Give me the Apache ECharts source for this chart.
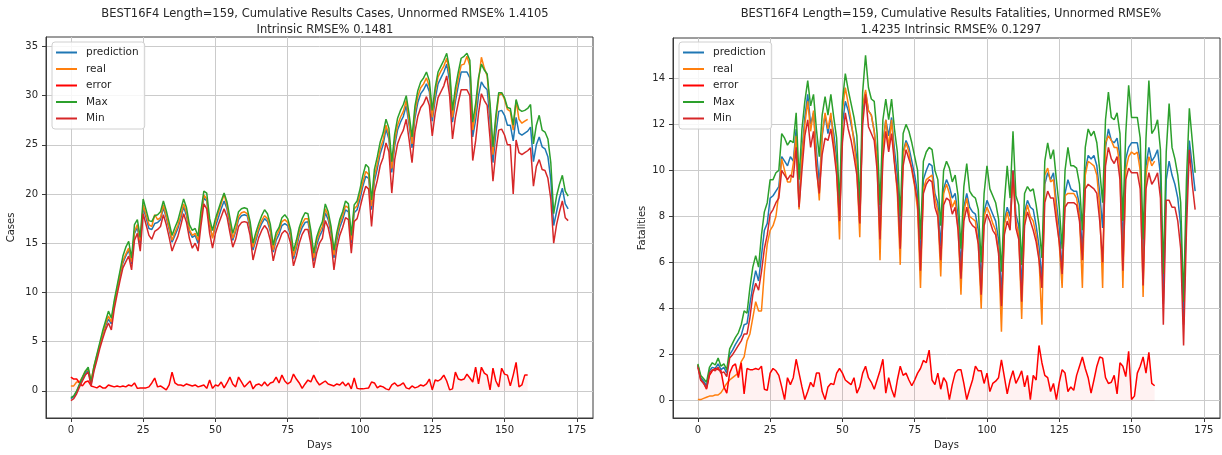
<!DOCTYPE html>
<html><head><meta charset="utf-8">
<script src="https://cdn.jsdelivr.net/npm/echarts@6/dist/echarts.min.js"></script>
<style>html,body{margin:0;padding:0;background:#fff}#c{width:1222px;height:455px}</style>
</head><body><div id="c"></div>
<script>
const seriesNames = ['prediction','real','error','Max','Min'];
const xTicks = [0,25,50,75,100,125,150,175];
const casesTicks = [0,5,10,15,20,25,30,35];
const fatalTicks = [0,2,4,6,8,10,12,14];
const titleCases = 'BEST16F4 Length=159, Cumulative Results Cases, Unnormed RMSE% 1.4105\nIntrinsic RMSE% 0.1481';
const titleFatal = 'BEST16F4 Length=159, Cumulative Results Fatalities, Unnormed RMSE%\n1.4235 Intrinsic RMSE% 0.1297';

// ---------- Cases ----------
const casesPred = [
-0.8,-0.6,-0.1,0.6,1.2,1.8,2.1, 0.7,2.2,3.4,4.6,5.7,6.6,7.3, 6.8,8.7,10.2,11.7,13.0,13.7,14.3,
12.9,16.0,16.6,14.9,18.6,17.6,16.5, 16.4,17.0,17.1,17.4,18.6,17.6,16.4, 15.1,15.8,16.5,17.5,18.7,17.8,16.2,
15.6,15.8,15.0,17.5,19.6,19.3,16.8, 15.6,16.7,17.6,18.5,19.3,18.5,16.9, 15.3,16.2,17.4,17.8,17.9,17.8,16.5,
14.3,15.3,16.3,17.0,17.5,17.2,16.2, 14.1,15.3,15.9,16.8,17.0,16.8,15.7, 13.4,14.5,15.8,16.6,17.1,17.2,15.6,
13.2,14.8,15.7,16.3,18.1,17.4,16.0, 13.5,15.3,16.6,17.4,18.4,18.2,15.0, 18.1,18.4,19.5,20.8,21.8,21.6,18.4,
21.3,22.6,24.1,25.0,26.6,25.6,22.2, 24.9,26.5,27.3,27.9,29.0,27.0,24.7, 27.7,29.3,30.2,30.6,31.2,30.4,27.4,
29.6,31.2,31.8,32.4,33.2,31.5,27.3, 29.4,31.0,32.4,32.4,32.4,31.8,25.8, 27.5,30.0,31.4,30.9,30.6,27.5,23.2,
26.2,28.4,28.5,28.0,27.0,27.0,25.4, 27.8,26.2,26.0,26.2,26.4,26.8,23.3, 25.0,25.8,24.8,24.6,23.8,21.5,16.8,
18.2,19.6,20.6,19.0,18.5];
const casesMax = [
-0.7,-0.5,0.0,0.7,1.4,2.0,2.4, 0.9,2.5,3.7,4.9,6.1,7.1,8.1, 7.4,9.2,10.7,12.2,13.7,14.6,15.2,
13.5,16.9,17.4,15.6,19.5,18.4,17.3, 17.2,17.8,17.9,18.2,19.3,18.3,17.1, 15.8,16.6,17.3,18.4,19.5,18.6,16.9,
16.3,16.5,15.7,18.3,20.3,20.1,17.5, 16.3,17.5,18.4,19.3,20.1,19.2,17.6, 16.0,17.0,18.2,18.5,18.6,18.5,17.2,
15.0,16.1,17.0,17.8,18.4,18.0,16.9, 14.8,16.1,16.6,17.6,17.9,17.5,16.4, 14.2,15.3,16.6,17.5,18.1,18.0,16.3,
14.0,15.6,16.5,17.2,19.0,18.2,16.7, 14.3,16.1,17.4,18.2,19.3,19.0,15.8, 18.9,19.3,20.5,21.9,23.0,22.7,19.4,
22.5,23.8,25.3,26.2,27.6,26.7,23.3, 26.1,27.7,28.5,29.1,30.0,28.1,25.8, 28.9,30.5,31.4,31.8,32.4,31.5,28.5,
30.8,32.4,33.0,33.6,34.3,32.7,28.5, 30.8,32.4,33.8,34.0,34.3,33.6,27.3, 29.2,31.8,33.2,32.6,32.2,29.2,24.8,
28.0,30.3,30.3,29.8,28.8,28.7,27.0, 29.6,28.6,28.4,28.5,28.7,29.1,25.1, 27.0,28.0,26.5,26.3,25.6,23.2,18.0,
19.8,21.0,21.9,20.3,19.8];
const casesMin = [
-1.0,-0.8,-0.3,0.4,1.0,1.6,1.9, 0.5,2.0,3.1,4.3,5.3,6.2,6.9, 6.2,8.3,9.8,11.2,12.5,13.1,13.7,
12.3,15.3,16.0,14.2,18.0,16.9,15.8, 15.4,16.2,16.4,16.7,17.9,16.9,15.6, 14.2,15.0,15.7,16.8,18.0,17.1,15.5,
14.5,15.0,14.2,16.8,19.0,18.5,16.0, 14.5,16.0,16.9,17.7,18.5,17.7,16.1, 14.6,15.4,16.7,17.1,17.2,17.1,15.8,
13.3,14.5,15.6,16.3,16.8,16.4,15.3, 13.2,14.5,15.2,16.0,16.3,16.0,15.0, 12.7,13.7,15.0,15.9,16.4,16.4,14.9,
12.5,14.0,15.0,15.5,17.3,16.6,15.2, 12.3,14.5,15.8,16.6,17.6,17.4,14.0, 17.2,17.5,18.6,19.8,20.8,20.5,16.7,
20.2,21.4,22.9,23.7,25.2,24.3,20.1, 23.5,25.1,25.9,26.5,27.6,25.5,23.2, 26.3,27.9,28.8,29.2,29.9,29.0,25.9,
28.2,29.8,30.4,31.0,32.0,30.0,25.6, 27.8,29.3,30.6,30.6,30.6,30.0,23.4, 25.4,28.2,30.2,29.5,29.0,25.6,21.3,
24.3,26.5,26.6,26.0,25.0,25.0,20.0, 25.5,24.2,24.0,24.2,24.4,24.7,20.8, 22.8,23.5,22.5,22.4,21.6,19.5,15.0,
16.9,18.2,19.3,17.6,17.3];
const casesReal = [
0.5,0.5,0.9,0.9,1.4,2.0,2.2, 1.0,2.5,3.6,4.7,5.8,6.8,7.6, 7.0,8.9,10.4,11.9,13.2,13.9,14.5,
13.1,16.2,16.9,15.2,18.9,17.9,16.9, 16.7,17.9,17.4,17.6,18.9,17.8,16.6, 15.3,16.1,16.8,17.8,19.0,18.1,16.4,
15.8,16.0,15.3,17.8,19.9,19.5,17.0, 15.5,17.1,18.1,19.0,20.0,18.8,17.2, 15.5,16.4,17.7,18.1,18.2,18.0,16.8,
14.6,15.6,16.6,17.3,17.8,17.5,16.4, 14.3,15.7,16.3,17.2,17.4,17.1,16.0, 13.7,14.8,16.2,17.0,17.5,17.5,15.9,
13.5,15.2,16.1,16.7,18.5,17.8,16.3, 13.8,15.7,17.0,17.8,18.8,18.6,15.3, 18.5,18.8,20.0,21.2,22.3,22.0,18.8,
21.8,23.1,24.6,25.5,27.0,26.0,22.6, 25.4,27.0,27.8,28.4,29.5,27.4,25.1, 28.3,29.9,30.8,31.2,31.8,30.9,27.8,
30.3,31.9,32.5,33.0,33.8,32.1,27.8, 30.0,31.7,33.1,33.2,34.0,33.0,26.5, 28.4,31.5,33.9,32.8,32.0,28.6,24.0,
27.5,30.0,30.3,29.6,28.6,28.4,26.5, 29.5,27.6,27.2,27.4,27.6];
const casesError = [
1.4,1.2,1.2,0.8,0.5,0.9,1.0, 0.5,0.4,0.3,0.5,0.3,0.3,0.6, 0.5,0.4,0.5,0.4,0.5,0.4,0.6,
0.5,0.8,0.25,0.3,0.3,0.3,0.4, 0.8,1.3,0.4,0.5,0.3,0.1,0.6, 1.9,0.8,0.6,0.6,0.5,0.7,0.6,
0.5,0.6,0.4,0.5,0.6,0.25,1.1, 0.25,0.6,0.5,0.9,0.3,0.8,1.4, 0.7,0.4,1.4,0.9,0.4,0.7,1.0,
0.2,0.6,0.7,0.5,0.9,0.5,0.8, 0.9,1.4,0.8,1.6,1.0,0.7,0.9, 1.7,1.2,0.8,0.25,0.7,1.1,0.9,
1.6,1.0,0.6,0.8,1.0,0.7,0.6, 0.5,0.7,0.6,0.9,0.5,0.8,0.2, 1.3,0.25,0.2,0.2,0.25,0.3,0.9,
0.8,0.3,0.5,0.4,0.2,0.1,0.6, 0.8,0.5,0.6,0.8,0.3,0.2,0.5, 0.3,0.4,0.6,0.5,0.7,1.2,0.1,
1.1,1.0,1.2,1.6,1.0,0.1,0.2, 1.9,1.2,1.1,1.2,1.7,1.3,0.9, 2.4,0.7,2.4,1.8,1.6,0.1,2.3,
1.0,0.4,2.3,1.7,1.6,0.5,1.6, 2.9,0.4,0.6,1.6,1.6];

// ---------- Fatalities ----------
const fatalPred = [
1.5,1.0,0.85,0.65,1.3,1.45,1.4, 1.6,1.35,1.45,1.2,2.0,2.2,2.45, 2.65,2.85,3.3,3.35,4.2,5.0,5.65,
5.2,6.3,7.4,7.7,8.8,8.9,9.1, 9.3,10.6,10.4,10.2,10.6,10.4,11.8, 8.6,10.8,12.3,13.3,12.0,12.5,10.9,
9.4,11.5,12.4,11.6,12.3,11.6,10.5, 7.8,12.0,13.0,12.6,12.0,11.4,10.5, 7.7,12.5,13.4,12.6,12.4,11.7,10.6,
7.5,11.2,12.2,11.5,12.3,10.9,9.8, 7.0,10.8,11.3,11.0,10.4,9.8,9.0, 6.1,9.6,10.0,10.3,10.2,9.0,8.6,
6.7,9.2,9.6,9.3,8.8,9.0,8.0, 5.8,8.4,9.0,8.4,8.2,8.1,7.4, 5.1,8.2,8.7,8.4,8.1,7.8,7.0,
4.6,7.8,8.4,8.0,10.0,8.1,7.6, 4.9,8.2,8.7,8.4,8.3,7.6,6.7, 5.2,9.4,9.9,9.6,9.9,8.6,7.5,
5.65,9.0,9.6,9.2,9.1,9.1,8.5, 6.4,10.0,10.65,10.5,10.65,10.2,9.0, 7.5,11.0,11.8,11.3,11.2,11.4,10.6,
6.7,10.5,11.0,11.2,11.2,11.2,10.4, 5.8,10.2,11.0,10.4,10.6,10.9,9.8, 4.2,9.6,10.4,9.8,9.4,8.8,7.6,
3.3,8.5,11.3,10.2,9.1];
const fatalMax = [
1.6,1.1,0.95,0.8,1.45,1.65,1.55, 1.85,1.5,1.6,1.35,2.25,2.5,2.75, 2.95,3.3,3.9,3.8,4.9,5.8,6.3,
5.8,7.2,8.2,8.6,9.6,9.6,9.9, 10.0,11.6,11.4,11.1,11.3,11.2,12.5, 9.6,11.8,13.0,13.9,12.8,13.3,11.8,
10.6,12.4,13.2,12.4,13.3,12.3,11.4, 8.5,13.0,14.2,13.5,12.9,12.3,11.5, 8.5,13.4,15.0,13.6,13.1,13.0,11.6,
8.5,12.2,13.1,12.2,13.1,11.8,10.8, 8.0,11.6,12.0,11.7,11.2,10.6,10.0, 7.0,10.4,10.8,11.0,10.9,10.0,9.6,
7.6,10.0,10.4,10.1,9.5,9.8,8.9, 6.6,9.3,10.3,9.1,8.9,8.8,8.3, 6.0,9.0,10.2,9.2,8.9,8.6,7.9,
5.6,8.6,10.2,8.8,11.7,8.9,8.5, 5.9,9.0,9.3,9.1,9.2,8.5,7.6, 6.2,10.4,11.2,10.5,10.9,9.6,8.4,
6.6,10.0,11.0,10.2,10.2,10.1,9.4, 7.4,11.0,11.8,11.5,11.7,11.2,10.0, 8.6,12.2,13.4,12.3,12.2,12.5,11.6,
7.8,11.6,13.7,12.3,12.3,12.3,11.4, 7.0,11.4,13.9,11.6,11.8,12.2,10.9, 5.5,10.8,12.9,11.0,10.5,9.8,8.6,
4.3,9.6,12.7,11.3,9.9];
const fatalMin = [
1.45,0.9,0.75,0.55,1.2,1.35,1.3, 1.45,1.2,1.25,1.05,1.85,2.0,2.2, 2.4,2.6,2.9,2.9,3.6,4.6,5.1,
4.8,5.6,6.6,7.2,8.1,8.3,8.6, 8.8,10.0,9.8,9.6,9.8,9.7,11.0, 8.4,10.0,11.5,12.2,11.0,11.7,10.0,
9.0,10.7,11.4,11.3,11.8,10.9,9.8, 7.8,11.2,12.5,11.8,11.3,10.6,9.8, 7.7,12.0,13.3,11.9,11.6,11.3,10.0,
7.0,10.5,11.7,10.8,11.6,10.3,9.2, 6.6,10.2,10.9,10.5,10.1,9.4,8.6, 5.65,9.0,9.4,9.6,9.5,8.4,8.0,
6.1,8.5,8.8,8.7,8.1,8.4,7.4, 5.3,7.8,8.4,7.8,7.6,7.5,6.8, 4.6,7.6,8.1,7.8,7.4,7.2,6.4,
4.1,7.2,7.8,7.4,10.0,7.5,7.0, 4.3,7.6,8.2,7.8,7.4,6.9,6.1, 4.9,8.6,9.1,8.8,8.8,7.8,6.9,
5.5,8.4,8.6,8.6,8.6,8.5,7.8, 6.1,9.2,9.4,9.3,9.2,9.0,7.8, 6.0,10.2,11.0,10.5,10.3,10.6,9.6,
5.65,9.6,10.1,9.9,9.9,9.9,9.2, 5.0,9.2,9.9,9.4,9.6,9.9,8.8, 3.3,8.7,8.7,8.4,8.4,7.8,6.6,
2.4,7.4,10.9,9.4,8.3];
const fatalReal = [
0.05,0.05,0.1,0.15,0.2,0.2,0.25, 0.25,0.35,0.55,0.75,0.9,1.0,1.1, 1.2,1.7,1.9,2.6,2.9,3.6,4.3,
3.9,3.9,5.6,6.8,7.4,7.6,8.0, 9.0,10.5,10.0,9.5,9.5,10.3,11.5, 8.3,10.6,12.0,13.0,11.7,12.6,10.3,
8.7,11.6,12.5,11.8,12.5,11.2,10.0, 7.0,12.6,13.6,12.9,12.2,11.2,10.0, 7.1,12.8,13.5,12.6,12.4,11.7,10.4,
6.1,11.0,12.2,11.0,12.2,10.4,9.0, 5.9,10.7,11.2,10.8,10.0,9.3,8.3, 4.9,9.2,9.6,9.7,9.8,8.8,8.2,
5.4,9.0,9.4,9.0,8.4,8.7,7.5, 4.6,8.2,8.8,8.0,7.9,7.8,6.8, 4.0,8.0,8.4,8.1,7.7,7.4,6.5,
3.0,7.6,8.2,7.6,9.8,7.8,7.2, 3.55,7.9,8.5,8.0,7.8,7.2,6.2, 3.3,9.8,10.1,9.5,9.6,8.2,6.8,
4.9,8.9,9.0,9.0,9.0,8.8,8.0, 4.9,9.8,10.4,10.3,10.2,9.8,8.4, 4.9,11.2,11.5,11.3,11.0,11.0,10.2,
4.9,10.0,10.6,10.8,10.7,10.8,10.0, 4.5,9.8,10.6,10.2,10.4];
const fatalError = [
1.56,0.9,0.76,0.5,1.1,1.3,1.4, 1.35,1.3,0.6,0.33,1.2,1.5,1.6, 1.0,1.65,0.3,1.4,1.35,1.35,1.4,
1.35,1.5,0.5,0.45,1.2,1.4,1.3, 1.1,0.6,0.05,1.0,0.7,1.0,1.8, 1.2,0.6,0.05,0.4,0.8,0.6,1.2,
1.2,0.4,0.05,0.6,0.75,0.7,1.2, 1.4,1.2,0.9,0.8,0.7,1.0,0.33, 0.6,1.2,1.5,1.0,0.8,0.5,0.9,
1.3,1.8,0.33,1.0,0.5,0.15,0.9, 1.5,1.1,1.2,0.9,0.65,0.9,1.2, 1.4,1.75,1.65,2.2,0.9,0.7,1.2,
0.5,1.0,0.8,0.05,0.7,1.2,1.35, 1.35,0.75,0.05,0.5,0.9,1.5,1.3, 1.3,0.75,1.2,0.4,0.75,0.85,1.0,
1.77,1.05,0.3,0.9,1.3,0.75,1.0, 1.3,0.6,1.1,0.05,1.1,0.9,2.4, 1.65,1.1,1.0,0.4,0.75,0.05,0.8,
1.35,1.2,0.4,0.6,0.45,1.1,1.5, 1.9,1.4,1.0,0.33,0.9,1.5,1.9, 1.85,1.0,0.75,0.8,1.1,0.3,1.65,
1.5,1.05,2.15,0.05,0.2,1.2,1.5, 1.9,1.2,2.1,0.75,0.65];

// ---------- chart ----------
const FONT = 'DejaVu Sans';
const TXT = '#262626';
const colors = {prediction:'#1f77b4', real:'#ff7f0e', error:'#ff0000', Max:'#2ca02c', Min:'#d62728'};
const toXY = arr => arr.map((v, i) => [i, v]);

function xAx(g) {
  return {
    type:'value', gridIndex:g, min:-8.6, max:180.6,
    name:'Days', nameLocation:'middle', nameGap:22,
    nameTextStyle:{fontFamily:FONT, fontSize:10, color:TXT},
    axisLine:{show:true, onZero:false, lineStyle:{color:'#3a3a3a', width:1}},
    axisTick:{show:true, customValues:xTicks, length:4, lineStyle:{color:'#3a3a3a'}},
    axisLabel:{customValues:xTicks, fontFamily:FONT, fontSize:10, color:TXT, margin:7},
    splitLine:{show:true, lineStyle:{color:'#cbcbcb', width:1}}
  };
}
function yAx(g, lo, hi, ticks, name, gap) {
  return {
    type:'value', gridIndex:g, min:lo, max:hi,
    name:name, nameLocation:'middle', nameGap:gap, nameRotate:90,
    nameTextStyle:{fontFamily:FONT, fontSize:10, color:TXT},
    axisLine:{show:true, onZero:false, lineStyle:{color:'#3a3a3a', width:1}},
    axisTick:{show:true, customValues:ticks, length:4, lineStyle:{color:'#3a3a3a'}},
    axisLabel:{customValues:ticks, fontFamily:FONT, fontSize:10, color:TXT, margin:8},
    splitLine:{show:true, lineStyle:{color:'#cbcbcb', width:1}}
  };
}
function seriesFor(idx, pred, real, err, mx, mn) {
  const base = {type:'line', xAxisIndex:idx, yAxisIndex:idx, symbol:'none', showSymbol:false, animation:false};
  const ln = (name, data, extra) => Object.assign({}, base, {name, data:toXY(data),
    lineStyle:{width:1.5, color:colors[name]}, itemStyle:{color:colors[name]}}, extra || {});
  return [
    ln('prediction', pred),
    ln('real', real),
    ln('error', err, {areaStyle:{color:'rgba(255,0,0,0.07)'}}),
    ln('Max', mx),
    ln('Min', mn)
  ];
}
function legendAt(left) {
  return {
    left:left, top:42, orient:'vertical', icon:'rect', itemWidth:21, itemHeight:2, itemGap:5.5,
    textStyle:{fontFamily:FONT, fontSize:10.5, color:TXT, padding:[0,0,0,4]},
    backgroundColor:'rgba(255,255,255,0.85)', borderColor:'#d0d0d0', borderWidth:1, borderRadius:3,
    padding:[5,6,5,4], data:seriesNames, selectedMode:false
  };
}
const chart = echarts.init(document.getElementById('c'), null, {renderer:'canvas'});
chart.setOption({
  backgroundColor:'#ffffff',
  animation:false,
  title:[
    {text:titleCases, left:320, top:1, textAlign:'center',
     textStyle:{fontFamily:FONT, fontSize:11.5, fontWeight:'normal', color:TXT, lineHeight:16}},
    {text:titleFatal, left:946, top:1, textAlign:'center',
     textStyle:{fontFamily:FONT, fontSize:11.5, fontWeight:'normal', color:TXT, lineHeight:16}}
  ],
  legend:[legendAt(52), legendAt(679)],
  grid:[
    {left:46, top:37, width:547, height:381, show:true, borderColor:'#3a3a3a', borderWidth:1, backgroundColor:'transparent'},
    {left:673, top:38, width:547, height:380, show:true, borderColor:'#3a3a3a', borderWidth:1, backgroundColor:'transparent'}
  ],
  xAxis:[xAx(0), xAx(1)],
  yAxis:[yAx(0, -2.76, 35.96, casesTicks, 'Cases', 30), yAx(1, -0.75, 15.75, fatalTicks, 'Fatalities', 26)],
  series: seriesFor(0, casesPred, casesReal, casesError, casesMax, casesMin)
    .concat(seriesFor(1, fatalPred, fatalReal, fatalError, fatalMax, fatalMin))
});
</script></body></html>
